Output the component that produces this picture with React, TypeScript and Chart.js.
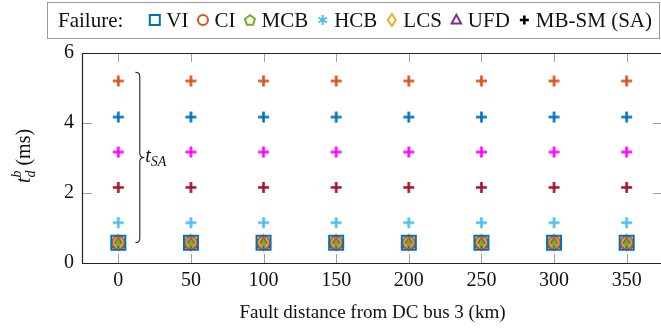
import React, { useEffect, useRef } from "react";
import { Chart, registerables } from "chart.js";

Chart.register(...registerables);

// ---------- data ----------
const distances = [0, 50, 100, 150, 200, 250, 300, 350];
const xTicks = [0, 50, 100, 150, 200, 250, 300, 350];
const yTicks = [0, 2, 4, 6];

const viTime = [0.58, 0.58, 0.58, 0.58, 0.58, 0.58, 0.58, 0.58];
const ciTime = [0.58, 0.58, 0.58, 0.58, 0.58, 0.58, 0.58, 0.58];
const mcbTime = [0.58, 0.58, 0.58, 0.58, 0.58, 0.58, 0.58, 0.58];
const hcbTime = [0.58, 0.58, 0.58, 0.58, 0.58, 0.58, 0.58, 0.58];
const lcsTime = [0.58, 0.58, 0.58, 0.58, 0.58, 0.58, 0.58, 0.58];
const ufdTime = [0.58, 0.58, 0.58, 0.58, 0.58, 0.58, 0.58, 0.58];
const sa1Time = [1.15, 1.15, 1.15, 1.15, 1.15, 1.15, 1.15, 1.15];
const sa2Time = [2.16, 2.16, 2.16, 2.16, 2.16, 2.16, 2.16, 2.16];
const sa3Time = [3.17, 3.17, 3.17, 3.17, 3.17, 3.17, 3.17, 3.17];
const sa4Time = [4.17, 4.17, 4.17, 4.17, 4.17, 4.17, 4.17, 4.17];
const sa5Time = [5.2, 5.2, 5.2, 5.2, 5.2, 5.2, 5.2, 5.2];

const legendLabels = ["VI", "CI", "MCB", "HCB", "LCS", "UFD", "MB-SM (SA)"];
const braceTop = 5.45;
const braceBottom = 0.58;

const FONT = "'Liberation Serif', 'Times New Roman', serif";

type Kind = "square" | "circle" | "pentagon" | "asterisk" | "diamond" | "triangle" | "plus";

function drawMarker(
  ctx: CanvasRenderingContext2D,
  kind: Kind,
  cx: number,
  cy: number,
  s: number,
  color: string,
  lw: number,
  fill?: string
) {
  const r = s / 2;
  ctx.save();
  ctx.strokeStyle = color;
  ctx.lineWidth = lw;
  ctx.lineJoin = "miter";
  ctx.beginPath();
  switch (kind) {
    case "square":
      ctx.rect(cx - r, cy - r, s, s);
      break;
    case "circle":
      ctx.arc(cx, cy, r, 0, Math.PI * 2);
      break;
    case "pentagon":
      for (let i = 0; i < 5; i++) {
        const a = -Math.PI / 2 + (i * 2 * Math.PI) / 5;
        const px = cx + r * 1.05 * Math.cos(a);
        const py = cy + r * 1.05 * Math.sin(a) + r * 0.08;
        if (i === 0) ctx.moveTo(px, py);
        else ctx.lineTo(px, py);
      }
      ctx.closePath();
      break;
    case "diamond":
      ctx.moveTo(cx, cy - r * 1.2);
      ctx.lineTo(cx + r * 0.8, cy);
      ctx.lineTo(cx, cy + r * 1.2);
      ctx.lineTo(cx - r * 0.8, cy);
      ctx.closePath();
      break;
    case "triangle":
      ctx.moveTo(cx, cy - r * 1.05);
      ctx.lineTo(cx + r * 0.95, cy + r * 0.7);
      ctx.lineTo(cx - r * 0.95, cy + r * 0.7);
      ctx.closePath();
      break;
    case "asterisk":
      for (let k = 0; k < 3; k++) {
        const a = Math.PI / 2 + (k * Math.PI) / 3;
        ctx.moveTo(cx + r * Math.cos(a), cy + r * Math.sin(a));
        ctx.lineTo(cx - r * Math.cos(a), cy - r * Math.sin(a));
      }
      break;
    case "plus":
      ctx.moveTo(cx - r, cy);
      ctx.lineTo(cx + r, cy);
      ctx.moveTo(cx, cy - r);
      ctx.lineTo(cx, cy + r);
      break;
  }
  if (fill) {
    ctx.fillStyle = fill;
    ctx.fill();
  }
  ctx.stroke();
  ctx.restore();
}

function markerCanvas(kind: Kind, s: number, color: string, lw: number, fill?: string) {
  const c = document.createElement("canvas");
  const size = Math.ceil(s + lw * 2 + 4);
  c.width = size;
  c.height = size;
  const ctx = c.getContext("2d")!;
  drawMarker(ctx, kind, size / 2, size / 2, s, color, lw, fill);
  return c;
}

const C_BLUE = "#0072BD";
const C_ORANGE = "#D95319";
const C_YELLOW = "#EDB120";
const C_PURPLE = "#7E2F8E";
const C_GREEN = "#77AC30";
const C_LBLUE = "#4DBEEE";
const C_RED = "#A2142F";
const C_MAGENTA = "#FF00FF";

const legendMarkers: { kind: Kind; color: string }[] = [
  { kind: "square", color: C_BLUE },
  { kind: "circle", color: C_ORANGE },
  { kind: "pentagon", color: C_GREEN },
  { kind: "asterisk", color: C_LBLUE },
  { kind: "diamond", color: C_YELLOW },
  { kind: "triangle", color: C_PURPLE },
  { kind: "plus", color: "#000" },
];

const decorPlugin = {
  id: "decor",
  afterDraw(chart: any) {
    const ctx: CanvasRenderingContext2D = chart.ctx;
    const { left, right, top, bottom } = chart.chartArea;
    const xs = chart.scales.x;
    const ys = chart.scales.y;
    ctx.save();
    // ticks (inward)
    ctx.strokeStyle = "#a0a0a0";
    ctx.lineWidth = 1;
    ctx.beginPath();
    xTicks.forEach((v) => {
      const px = Math.round(xs.getPixelForValue(v)) + 0.5;
      ctx.moveTo(px, bottom);
      ctx.lineTo(px, bottom - 9);
      ctx.moveTo(px, top);
      ctx.lineTo(px, top + 9);
    });
    yTicks.forEach((v) => {
      const py = Math.round(ys.getPixelForValue(v)) + 0.5;
      ctx.moveTo(left, py);
      ctx.lineTo(left + 10, py);
      ctx.moveTo(right, py);
      ctx.lineTo(right - 10, py);
    });
    ctx.stroke();
    // frame
    ctx.strokeStyle = "#262626";
    ctx.lineWidth = 1.2;
    ctx.beginPath();
    ctx.rect(Math.round(left) + 0.5, Math.round(top) + 0.5, Math.round(right - left), Math.round(bottom - top));
    ctx.stroke();

    // brace
    const x0 = xs.getPixelForValue(0) + 17;
    const yT = ys.getPixelForValue(braceTop);
    const yB = ys.getPixelForValue(braceBottom);
    const yM = (yT + yB) / 2;
    const a = 4.5;
    ctx.strokeStyle = "#222";
    ctx.lineWidth = 1.1;
    ctx.beginPath();
    ctx.moveTo(x0, yT);
    ctx.quadraticCurveTo(x0 + a, yT, x0 + a, yT + a);
    ctx.lineTo(x0 + a, yM - a);
    ctx.quadraticCurveTo(x0 + a, yM, x0 + 2 * a, yM);
    ctx.quadraticCurveTo(x0 + a, yM, x0 + a, yM + a);
    ctx.lineTo(x0 + a, yB - a);
    ctx.quadraticCurveTo(x0 + a, yB, x0, yB);
    ctx.stroke();
    ctx.fillStyle = "#111";
    ctx.textBaseline = "alphabetic";
    ctx.textAlign = "left";
    ctx.font = `italic 20px ${FONT}`;
    const tx = x0 + 2 * a + 1;
    ctx.fillText("t", tx, yM + 5);
    const tw = ctx.measureText("t").width;
    ctx.font = `italic 14px ${FONT}`;
    ctx.fillText("SA", tx + tw, yM + 9);

    // x title
    ctx.font = `19px ${FONT}`;
    ctx.textAlign = "center";
    ctx.fillText("Fault distance from DC bus 3 (km)", (left + right) / 2, 318);

    // y title (rotated)
    ctx.save();
    ctx.translate(30, (top + bottom) / 2 - 2);
    ctx.rotate(-Math.PI / 2);
    ctx.textAlign = "left";
    ctx.font = `italic 20px ${FONT}`;
    const w1 = ctx.measureText("t").width;
    ctx.font = `italic 14px ${FONT}`;
    const w2 = Math.max(ctx.measureText("d").width, ctx.measureText("b").width);
    ctx.font = `20px ${FONT}`;
    const w3 = ctx.measureText(" (ms)").width;
    let cx = -(w1 + w2 + w3) / 2;
    ctx.font = `italic 20px ${FONT}`;
    ctx.fillText("t", cx, 0);
    cx += w1;
    ctx.font = `italic 14px ${FONT}`;
    ctx.fillText("d", cx, 5);
    ctx.fillText("b", cx, -9);
    cx += w2;
    ctx.font = `20px ${FONT}`;
    ctx.fillText(" (ms)", cx, 0);
    ctx.restore();

    // legend
    const lx0 = 47.5;
    const ly0 = 2.5;
    const lx1 = 659.5;
    const ly1 = 38.5;
    ctx.fillStyle = "#fff";
    ctx.fillRect(lx0, ly0, lx1 - lx0, ly1 - ly0);
    ctx.strokeStyle = "#9a9a9a";
    ctx.lineWidth = 1;
    ctx.strokeRect(lx0, ly0, lx1 - lx0, ly1 - ly0);
    ctx.fillStyle = "#111";
    ctx.font = `21px ${FONT}`;
    ctx.textAlign = "left";
    const base = 27;
    const cy = 20;
    let x = 58;
    ctx.fillText("Failure:", x, base);
    x += ctx.measureText("Failure:").width + 26;
    legendLabels.forEach((lab, i) => {
      const m = legendMarkers[i];
      const isPlus = m.kind === "plus";
      drawMarker(ctx, m.kind, x + 5.5, cy, isPlus ? 9 : 10, m.color, isPlus ? 2.6 : 2);
      x += 11 + 6;
      ctx.fillStyle = "#111";
      ctx.fillText(lab, x, base);
      x += ctx.measureText(lab).width + 9;
    });
    ctx.restore();
  },
};

export default function App() {
  const ref = useRef<HTMLCanvasElement | null>(null);
  useEffect(() => {
    const canvas = ref.current!;
    const mk = (v: number[]) => distances.map((d, i) => ({ x: d, y: v[i] }));
    const ds = (label: string, data: number[], style: HTMLCanvasElement) => ({
      label,
      data: mk(data),
      pointStyle: style,
      pointRadius: 6,
      showLine: false,
    });
    const chart = new Chart(canvas, {
      type: "scatter",
      data: {
        datasets: [
          ds("VI", viTime, markerCanvas("square", 14, C_BLUE, 2)),
          ds("CI", ciTime, markerCanvas("circle", 13, C_ORANGE, 2)),
          ds("LCS", lcsTime, markerCanvas("diamond", 13, C_YELLOW, 2)),
          ds("UFD", ufdTime, markerCanvas("triangle", 13, C_PURPLE, 2)),
          ds("MCB", mcbTime, markerCanvas("pentagon", 12, C_GREEN, 2, C_GREEN)),
          ds("HCB", hcbTime, markerCanvas("asterisk", 11, C_LBLUE, 2)),
          ds("MB-SM (SA) 1", sa1Time, markerCanvas("plus", 11, C_LBLUE, 2.6)),
          ds("MB-SM (SA) 2", sa2Time, markerCanvas("plus", 11, C_RED, 2.6)),
          ds("MB-SM (SA) 3", sa3Time, markerCanvas("plus", 11, C_MAGENTA, 2.6)),
          ds("MB-SM (SA) 4", sa4Time, markerCanvas("plus", 11, C_BLUE, 2.6)),
          ds("MB-SM (SA) 5", sa5Time, markerCanvas("plus", 11, C_ORANGE, 2.6)),
        ] as any,
      },
      options: {
        responsive: false,
        animation: false,
        devicePixelRatio: 1,
        layout: { padding: { top: 53, right: 4, left: 0, bottom: 0 } },
        plugins: { legend: { display: false }, tooltip: { enabled: false } },
        scales: {
          x: {
            type: "linear",
            min: -25,
            max: 375,
            grid: { display: false, drawTicks: false },
            border: { display: false },
            afterBuildTicks: (s: any) => {
              s.ticks = xTicks.map((v) => ({ value: v }));
            },
            afterFit: (s: any) => {
              s.height = 70;
            },
            ticks: {
              padding: 6,
              color: "#111",
              font: { family: FONT, size: 20 },
              maxRotation: 0,
              callback: (v: any) => String(v),
            },
          },
          y: {
            type: "linear",
            min: 0,
            max: 6,
            grid: { display: false, drawTicks: false },
            border: { display: false },
            afterBuildTicks: (s: any) => {
              s.ticks = yTicks.map((v) => ({ value: v }));
            },
            afterFit: (s: any) => {
              s.width = 82;
            },
            ticks: {
              padding: 8,
              color: "#111",
              font: { family: FONT, size: 20 },
              callback: (v: any) => String(v),
            },
          },
        },
      },
      plugins: [decorPlugin],
    });
    return () => chart.destroy();
  }, []);
  return (
    <div style={{ position: "absolute", left: 0, top: 0, width: 661, height: 333, overflow: "hidden", background: "#fff" }}>
      <canvas ref={ref} width={670} height={333} style={{ width: 670, height: 333, display: "block" }} />
    </div>
  );
}
